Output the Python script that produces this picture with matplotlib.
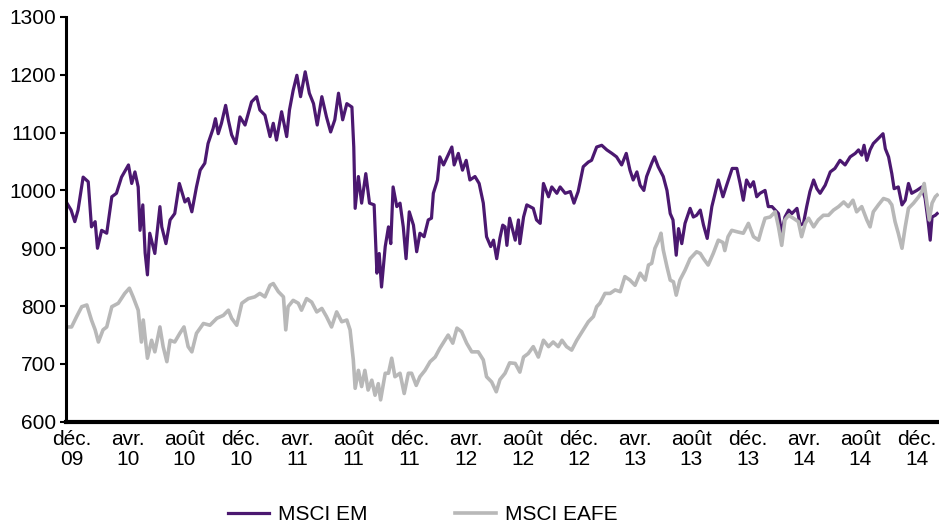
import matplotlib
matplotlib.use("Agg")
import matplotlib.pyplot as plt
import pandas as pd

plt.rcParams['font.family'] = ['Liberation Sans', 'DejaVu Sans']

start = pd.Timestamp('2009-11-20')

# MSCI EM (jours depuis start, niveau de l'indice)
em_days = [0, 9, 17, 24, 35, 46, 53, 61, 66, 75,
           86, 97, 107, 118, 133, 140, 147, 154, 158, 164,
           169, 174, 179, 190, 201, 205, 214, 223, 233, 243,
           255, 262, 270, 280, 288, 298, 305, 316, 321, 327,
           334, 343, 349, 356, 365, 374, 385, 399, 410, 417,
           428, 439, 446, 453, 464, 475, 481, 489, 497, 505,
           515, 524, 533, 541, 551, 561, 570, 579, 587, 596,
           605, 616, 620, 623, 630, 637, 646, 654, 664, 670,
           675, 680, 688, 695, 700, 705, 713, 720, 727, 733,
           740, 749, 756, 763, 772, 781, 788, 792, 801, 806,
           814, 824, 832, 837, 846, 855, 863, 871, 882, 891,
           900, 907, 916, 922, 929, 936, 942, 947, 951, 957,
           969, 976, 979, 987, 994, 1008, 1015, 1023, 1030, 1041,
           1048, 1059, 1066, 1077, 1088, 1096, 1105, 1116, 1127, 1134,
           1145, 1156, 1167, 1178, 1188, 1199, 1209, 1217, 1224, 1232,
           1239, 1247, 1253, 1264, 1270, 1278, 1289, 1297, 1304, 1310,
           1317, 1322, 1329, 1336, 1347, 1354, 1361, 1369, 1376, 1384,
           1394, 1401, 1408, 1418, 1426, 1438, 1448, 1455, 1462, 1469,
           1477, 1484, 1491, 1498, 1509, 1516, 1524, 1531, 1538, 1545,
           1552, 1560, 1567, 1578, 1585, 1592, 1599, 1606, 1614, 1621,
           1628, 1639, 1650, 1660, 1671, 1682, 1693, 1704, 1711, 1718,
           1723, 1729, 1736, 1743, 1754, 1764, 1769, 1776, 1783, 1788,
           1797, 1805, 1812, 1819, 1826, 1837, 1848, 1855, 1862, 1866,
           1870, 1877, 1881]
em_values = [978, 966, 946, 966, 1023, 1015, 937, 946, 900, 931,
             926, 989, 995, 1023, 1044, 1012, 1032, 1006, 931, 975,
             892, 854, 926, 891, 972, 937, 908, 949, 960, 1012,
             980, 986, 963, 1006, 1035, 1047, 1081, 1107, 1124, 1098,
             1116, 1147, 1121, 1096, 1081, 1127, 1113, 1153, 1162, 1139,
             1130, 1093, 1116, 1087, 1136, 1093, 1139, 1173, 1199, 1162,
             1205, 1168, 1150, 1113, 1162, 1127, 1101, 1122, 1168, 1122,
             1150, 1144, 1075, 969, 1024, 978, 1029, 978, 975, 857,
             891, 833, 903, 937, 908, 1006, 972, 978, 937, 882,
             963, 940, 894, 926, 920, 949, 952, 995, 1018, 1058,
             1044, 1061, 1075, 1044, 1064, 1035, 1052, 1018, 1024, 1012,
             978, 920, 903, 914, 882, 918, 940, 937, 905, 952,
             914, 949, 908, 954, 975, 969, 949, 943, 1012, 989,
             1006, 995, 1006, 995, 998, 978, 998, 1041, 1049, 1052,
             1075, 1078, 1070, 1064, 1058, 1044, 1064, 1035, 1018, 1032,
             1009, 1000, 1024, 1047, 1058, 1041, 1024, 1000, 960, 949,
             888, 934, 908, 943, 969, 954, 957, 966, 940, 917,
             972, 995, 1018, 989, 1009, 1038, 1038, 1012, 983, 1018,
             1006, 1015, 989, 995, 1000, 972, 972, 966, 960, 926,
             954, 966, 960, 969, 940, 943, 972, 998, 1018, 1003,
             995, 1009, 1032, 1038, 1052, 1044, 1058, 1064, 1070, 1061,
             1078, 1052, 1070, 1081, 1090, 1098, 1072, 1058, 1029, 1003,
             1006, 975, 983, 1012, 995, 1000, 1006, 986, 943, 914,
             954, 957, 960]

# MSCI EAFE
eafe_days = [0, 10, 21, 32, 43, 53, 61, 68, 78, 86,
             97, 111, 125, 135, 143, 154, 161, 165, 174, 183,
             190, 201, 208, 216, 223, 233, 244, 253, 262, 270,
             280, 295, 309, 324, 338, 349, 356, 367, 378, 392,
             406, 417, 428, 439, 446, 457, 468, 473, 478, 489,
             500, 507, 518, 529, 540, 551, 561, 572, 583, 594,
             605, 612, 619, 623, 630, 637, 644, 651, 659, 666,
             673, 678, 688, 695, 702, 709, 720, 729, 738, 745,
             755, 763, 774, 785, 796, 806, 817, 824, 834, 843,
             853, 864, 875, 889, 900, 907, 918, 928, 936, 947,
             957, 969, 979, 987, 997, 1008, 1019, 1030, 1041, 1051,
             1062, 1070, 1080, 1091, 1102, 1116, 1127, 1138, 1145, 1152,
             1163, 1174, 1185, 1196, 1206, 1217, 1228, 1239, 1250, 1257,
             1264, 1271, 1279, 1284, 1289, 1297, 1304, 1311, 1317, 1325,
             1336, 1347, 1354, 1361, 1369, 1376, 1386, 1397, 1408, 1418,
             1422, 1429, 1437, 1451, 1462, 1473, 1484, 1495, 1502, 1509,
             1520, 1531, 1538, 1545, 1552, 1560, 1570, 1581, 1588, 1596,
             1603, 1614, 1624, 1635, 1646, 1657, 1668, 1679, 1689, 1699,
             1707, 1718, 1729, 1736, 1743, 1754, 1765, 1776, 1783, 1790,
             1797, 1805, 1812, 1819, 1830, 1841, 1848, 1853, 1859, 1864,
             1870, 1877, 1881]
eafe_values = [764, 764, 782, 799, 802, 776, 759, 738, 759, 764,
               799, 805, 822, 831, 816, 793, 738, 776, 710, 741,
               721, 764, 730, 704, 741, 738, 753, 764, 730, 721,
               753, 770, 767, 779, 784, 793, 779, 767, 805, 813,
               816, 822, 816, 836, 839, 825, 816, 759, 799, 810,
               805, 793, 813, 807, 790, 796, 782, 764, 790, 773,
               776, 759, 707, 658, 689, 661, 689, 655, 672, 646,
               666, 638, 684, 684, 710, 678, 684, 649, 684, 684,
               663, 678, 689, 704, 712, 727, 741, 750, 736, 762,
               756, 736, 721, 721, 707, 678, 669, 652, 673, 684,
               702, 701, 686, 712, 718, 730, 712, 741, 730, 738,
               730, 741, 730, 724, 741, 759, 773, 782, 799, 805,
               822, 822, 828, 825, 851, 845, 836, 857, 845, 871,
               874, 900, 914, 926, 897, 868, 845, 842, 819, 845,
               862, 882, 888, 894, 891, 882, 871, 891, 914, 910,
               896, 920, 931, 928, 926, 943, 920, 914, 934, 952,
               954, 963, 937, 905, 949, 957, 952, 946, 920, 943,
               952, 937, 949, 957, 957, 966, 972, 980, 972, 983,
               963, 972, 949, 937, 963, 975, 986, 983, 975, 946,
               926, 900, 937, 969, 978, 989, 998, 1012, 978, 949,
               978, 989, 992]

tick_dates = pd.date_range('2009-12-01', '2014-12-01', freq='4MS')
tick_labels = ['déc.\n09', 'avr.\n10', 'août\n10', 'déc.\n10', 'avr.\n11', 'août\n11',
               'déc.\n11', 'avr.\n12', 'août\n12', 'déc.\n12', 'avr.\n13', 'août\n13',
               'déc.\n13', 'avr.\n14', 'août\n14', 'déc.\n14']

em_dates = start + pd.to_timedelta(em_days, unit='D')
eafe_dates = start + pd.to_timedelta(eafe_days, unit='D')

fig = plt.figure(figsize=(9.39, 5.26), dpi=100)
ax = fig.add_axes([0.0703, 0.198, 0.9297, 0.77])

ax.plot(em_dates, em_values, color='#4b1870', lw=2.3, label='MSCI EM')
ax.plot(eafe_dates, eafe_values, color='#b8b8b8', lw=2.6, label='MSCI EAFE')

ax.set_ylim(600, 1300)
ax.set_yticks(range(600, 1301, 100))
ax.set_xlim(start - pd.Timedelta(days=2), start + pd.Timedelta(days=1885))
ax.set_xticks(tick_dates)
ax.set_xticklabels(tick_labels, linespacing=1.05)

for s in ['top', 'right']:
    ax.spines[s].set_visible(False)
ax.spines['left'].set_linewidth(2.2)
ax.spines['bottom'].set_linewidth(3)
ax.tick_params(axis='y', length=4, width=1.5, pad=3, labelsize=15)
ax.tick_params(axis='x', length=0, pad=6, labelsize=15)

fig.legend(loc='center', bbox_to_anchor=(0.45, 0.021), ncol=2, frameon=False,
           fontsize=15, handlelength=2.0, handletextpad=0.4, columnspacing=4.2,
           borderaxespad=0)

fig.savefig('out.png', dpi=100)
